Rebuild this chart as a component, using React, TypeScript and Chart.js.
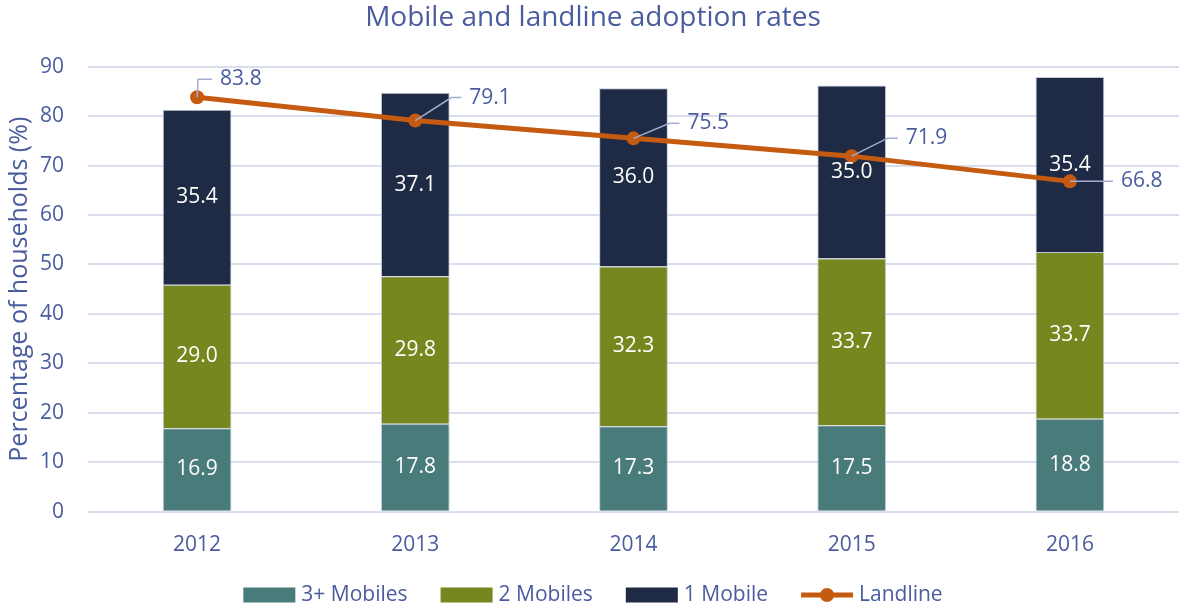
import React, { useEffect, useRef } from 'react';
import { Chart, registerables } from 'chart.js';

Chart.register(...registerables);

const categories = ['2012', '2013', '2014', '2015', '2016'];
const threePlusMobiles = [16.9, 17.8, 17.3, 17.5, 18.8];
const twoMobiles = [29.0, 29.8, 32.3, 33.7, 33.7];
const oneMobile = [35.4, 37.1, 36.0, 35.0, 35.4];
const landline = [83.8, 79.1, 75.5, 71.9, 66.8];
const seriesNames = ['3+ Mobiles', '2 Mobiles', '1 Mobile', 'Landline'];
const chartTitle = 'Mobile and landline adoption rates';
const yAxisTitle = 'Percentage of households (%)';

const FONT = "'Open Sans', 'Noto Sans', sans-serif";
const TEXT = '#4a5c9e';
const COLORS = ['#497b7a', '#76871f', '#1f2a44', '#c55a11'];
const LEADER_COLOR = '#a3add3';
// leader-line offsets (px) for landline labels: [dx, dy, horizontal tail]
const LEADERS: number[][] = [
  [1, -18, 14],
  [36, -23, 10],
  [36, -15, 10],
  [36, -18, 10],
  [33, 0, 10],
];

const labelPlugin = {
  id: 'valueLabels',
  afterDatasetsDraw(chart: any) {
    const ctx = chart.ctx;
    ctx.save();
    chart.data.datasets.forEach((ds: any, i: number) => {
      const meta = chart.getDatasetMeta(i);
      if (meta.hidden) return;
      if (ds.type === 'line') {
        meta.data.forEach((pt: any, j: number) => {
          const [dx, dy, tail] = LEADERS[j];
          const ex = pt.x + dx;
          const ey = pt.y + dy;
          ctx.strokeStyle = LEADER_COLOR;
          ctx.lineWidth = 1.5;
          ctx.beginPath();
          ctx.moveTo(pt.x, pt.y);
          ctx.lineTo(ex, ey);
          ctx.lineTo(ex + tail, ey);
          ctx.stroke();
          ctx.fillStyle = TEXT;
          ctx.font = `21px ${FONT}`;
          ctx.textAlign = 'left';
          ctx.textBaseline = 'middle';
          ctx.fillText(Number(ds.data[j]).toFixed(1), ex + tail + 8, ey);
        });
      } else {
        meta.data.forEach((bar: any, j: number) => {
          const cy = (bar.y + bar.base) / 2;
          ctx.fillStyle = '#ffffff';
          ctx.font = `21px ${FONT}`;
          ctx.textAlign = 'center';
          ctx.textBaseline = 'middle';
          ctx.fillText(Number(ds.data[j]).toFixed(1), bar.x, cy);
        });
      }
    });
    ctx.restore();
  },
};

const legendPlugin = {
  id: 'customLegend',
  afterDraw(chart: any) {
    const ctx = chart.ctx;
    ctx.save();
    ctx.font = `21px ${FONT}`;
    const boxW = 52;
    const boxH = 15;
    const gapBoxText = 6;
    const gapItems = 33;
    const items = chart.data.datasets.map((ds: any) => ({
      label: ds.label,
      color: ds.type === 'line' ? ds.borderColor : ds.backgroundColor,
      line: ds.type === 'line',
    }));
    const widths = items.map((it: any) => boxW + gapBoxText + ctx.measureText(it.label).width);
    const total = widths.reduce((a: number, b: number) => a + b, 0) + gapItems * (items.length - 1);
    let x = (chart.width - total) / 2;
    const y = 595;
    items.forEach((it: any, k: number) => {
      if (it.line) {
        ctx.strokeStyle = it.color;
        ctx.lineWidth = 5;
        ctx.beginPath();
        ctx.moveTo(x, y);
        ctx.lineTo(x + boxW, y);
        ctx.stroke();
        ctx.fillStyle = it.color;
        ctx.beginPath();
        ctx.arc(x + boxW / 2, y, 7, 0, Math.PI * 2);
        ctx.fill();
      } else {
        ctx.fillStyle = it.color;
        ctx.fillRect(x, y - boxH / 2, boxW, boxH);
      }
      ctx.fillStyle = TEXT;
      ctx.textAlign = 'left';
      ctx.textBaseline = 'middle';
      ctx.fillText(it.label, x + boxW + gapBoxText, y);
      x += widths[k] + gapItems;
    });
    ctx.restore();
  },
};

export default function App() {
  const ref = useRef<HTMLCanvasElement | null>(null);

  useEffect(() => {
    document.body.style.margin = '0';
    const canvas = ref.current;
    if (!canvas) return;
    const barCommon = {
      type: 'bar' as const,
      stack: 'mobiles',
      borderColor: '#c3c9da',
      borderWidth: 1,
      barPercentage: 0.315,
      categoryPercentage: 1,
      order: 1,
    };
    const chart = new Chart(canvas, {
      type: 'bar',
      data: {
        labels: categories,
        datasets: [
          { ...barCommon, label: seriesNames[0], data: threePlusMobiles, backgroundColor: COLORS[0] },
          { ...barCommon, label: seriesNames[1], data: twoMobiles, backgroundColor: COLORS[1] },
          { ...barCommon, label: seriesNames[2], data: oneMobile, backgroundColor: COLORS[2] },
          {
            type: 'line',
            label: seriesNames[3],
            data: landline,
            borderColor: COLORS[3],
            backgroundColor: COLORS[3],
            borderWidth: 5,
            pointRadius: 7,
            pointBackgroundColor: COLORS[3],
            pointBorderColor: COLORS[3],
            pointBorderWidth: 0,
            tension: 0,
            order: 0,
          } as any,
        ],
      },
      options: {
        animation: false,
        responsive: false,
        maintainAspectRatio: false,
        layout: { padding: { left: 0, right: 0, top: 0, bottom: 40 } },
        plugins: {
          legend: { display: false },
          tooltip: { enabled: false },
          title: {
            display: true,
            text: chartTitle,
            color: TEXT,
            font: { family: FONT, size: 28, weight: 'normal' },
            padding: { top: 1, bottom: 32 },
          },
        },
        scales: {
          x: {
            stacked: true,
            grid: { display: false },
            border: { display: false },
            ticks: { color: TEXT, font: { family: FONT, size: 21 }, padding: 13 },
            afterFit: (scale: any) => {
              scale.paddingLeft = 0;
              scale.paddingRight = 0;
            },
          },
          y: {
            stacked: true,
            min: 0,
            max: 90,
            grid: { color: '#d9ddee', lineWidth: 2, drawTicks: false },
            border: { display: false },
            ticks: { stepSize: 10, color: TEXT, font: { family: FONT, size: 21 }, padding: 24 },
            title: {
              display: true,
              text: yAxisTitle,
              color: TEXT,
              font: { family: FONT, size: 25, weight: 'normal' },
              padding: { top: 5, bottom: 0 },
            },
            afterFit: (scale: any) => {
              scale.width = 88;
              scale.paddingLeft = 0;
              scale.paddingRight = 0;
            },
          },
        },
      },
      plugins: [labelPlugin, legendPlugin],
    });
    return () => chart.destroy();
  }, []);

  return (
    <div style={{ width: 1186, height: 611 }}>
      <canvas ref={ref} width={1186} height={611} style={{ display: 'block' }} />
    </div>
  );
}
